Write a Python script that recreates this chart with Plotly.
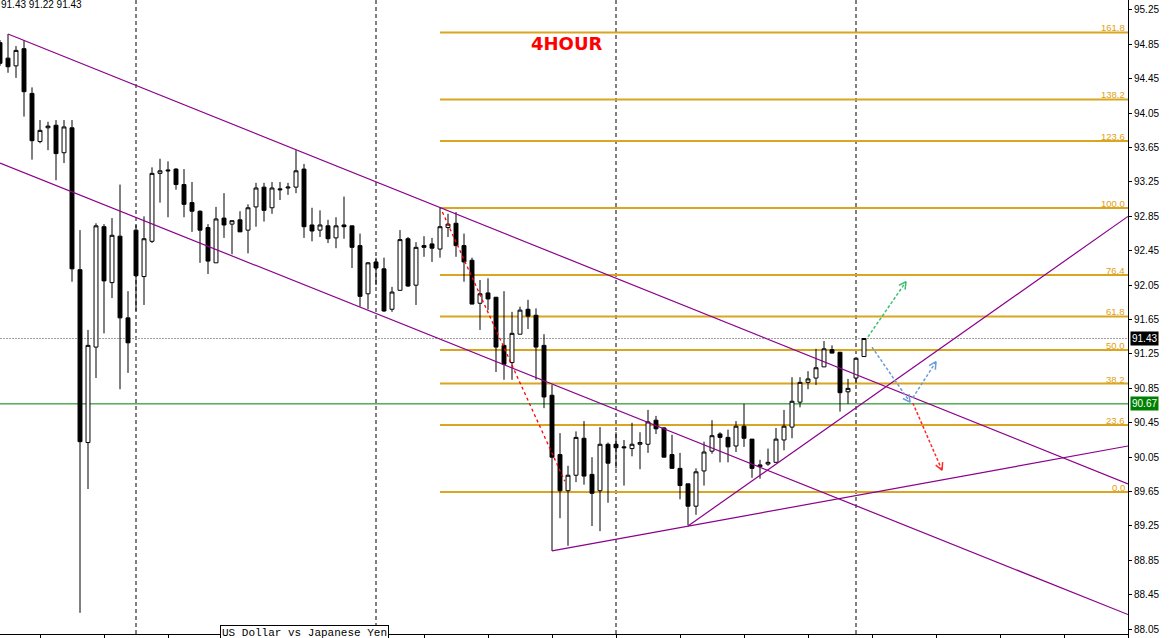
import math
import plotly.graph_objects as go

# ---------------- data (USDJPY, H4) ----------------
bar_index = list(range(109))

open_ = [94.87, 94.69, 94.60, 94.80, 94.28, 93.72, 93.88, 93.91, 93.59, 93.88,
         92.23, 90.22, 91.33, 92.73, 92.08, 92.62, 91.67, 92.69, 92.15, 92.56,
         93.35, 93.39, 93.40, 93.22, 93.01, 92.91, 92.72, 92.31, 92.83, 92.76,
         92.81, 92.69, 92.96, 93.19, 92.95, 93.17, 93.18, 93.19, 93.40, 92.75,
         92.69, 92.74, 92.60, 92.75, 92.74, 92.51, 91.95, 92.32, 92.24, 91.77,
         91.99, 92.59, 92.05, 92.51, 92.53, 92.47, 92.72, 92.77, 92.51, 92.34,
         91.84, 91.96, 91.91, 91.35, 91.15, 91.48, 91.77, 91.70, 91.35, 90.77,
         90.08, 89.66, 89.84, 90.27, 89.85, 89.66, 90.20, 90.20, 90.17, 90.15,
         90.20, 90.20, 90.48, 90.39, 90.08, 89.92, 89.74, 89.48, 89.89, 90.12,
         90.32, 90.28, 90.18, 90.41, 90.26, 89.94, 89.97, 89.99, 90.25, 90.40,
         90.69, 90.92, 90.97, 91.10, 91.30, 91.27, 90.81, 90.97, 91.22]

high = [94.90, 94.97, 94.83, 94.90, 94.35, 93.97, 93.95, 93.97, 93.97, 93.97,
        92.69, 91.53, 92.77, 92.76, 92.83, 93.22, 91.98, 92.75, 92.85, 93.42,
        93.52, 93.49, 93.41, 93.40, 93.25, 92.92, 92.76, 92.96, 93.12, 92.80,
        92.91, 92.99, 93.24, 93.24, 93.25, 93.25, 93.24, 93.62, 93.46, 92.95,
        92.92, 92.81, 92.84, 93.08, 92.74, 92.65, 92.32, 92.37, 92.37, 92.03,
        92.69, 92.61, 92.55, 92.62, 92.60, 92.95, 92.88, 92.90, 92.65, 92.37,
        92.11, 92.13, 91.91, 91.98, 91.74, 91.80, 91.88, 91.78, 91.48, 90.89,
        90.33, 89.95, 90.35, 90.47, 90.05, 90.40, 90.22, 90.34, 90.25, 90.45,
        90.34, 90.60, 90.53, 90.40, 90.31, 90.10, 89.74, 89.92, 90.23, 90.48,
        90.34, 90.37, 90.47, 90.67, 90.26, 90.02, 90.15, 90.39, 90.60, 90.98,
        90.98, 91.05, 91.31, 91.40, 91.35, 91.27, 90.96, 91.20, 91.43]

low = [94.60, 94.52, 94.46, 94.01, 93.51, 93.70, 93.62, 93.27, 93.47, 92.09,
       88.24, 89.68, 90.97, 91.49, 91.90, 90.84, 91.03, 91.75, 91.82, 92.54,
       93.01, 92.84, 93.16, 92.84, 92.67, 92.31, 92.18, 92.31, 92.60, 92.41,
       92.67, 92.42, 92.73, 92.79, 92.88, 93.04, 93.10, 93.12, 92.60, 92.56,
       92.61, 92.54, 92.48, 92.59, 92.25, 91.80, 91.77, 92.05, 91.74, 91.74,
       91.99, 92.03, 91.82, 92.38, 92.32, 92.37, 92.61, 92.38, 92.09, 91.83,
       91.53, 91.76, 91.04, 90.95, 90.95, 91.48, 91.54, 90.95, 90.62, 88.96,
       89.34, 89.02, 89.76, 89.73, 89.25, 89.19, 89.52, 89.92, 89.72, 90.06,
       89.91, 90.10, 90.32, 90.05, 89.92, 89.56, 89.26, 89.38, 89.72, 90.09,
       89.99, 89.99, 90.11, 90.17, 89.81, 89.80, 89.95, 89.99, 90.13, 90.27,
       90.63, 90.84, 90.89, 91.10, 91.26, 90.58, 90.67, 90.91, 91.22]

close = [94.63, 94.59, 94.78, 94.30, 93.73, 93.85, 93.90, 93.58, 93.89, 92.24,
         90.23, 91.35, 92.74, 92.10, 92.63, 91.67, 91.38, 92.16, 92.59, 93.35,
         93.38, 93.38, 93.22, 92.99, 92.91, 92.69, 92.33, 92.82, 92.75, 92.80,
         92.67, 92.95, 93.18, 92.92, 93.18, 93.16, 93.19, 93.38, 92.73, 92.68,
         92.75, 92.59, 92.74, 92.73, 92.49, 91.92, 92.31, 92.25, 91.75, 91.97,
         92.58, 92.04, 92.49, 92.49, 92.48, 92.73, 92.76, 92.51, 92.32, 91.83,
         91.95, 91.89, 91.33, 91.13, 91.49, 91.76, 91.69, 91.33, 90.75, 90.05,
         89.66, 89.84, 90.28, 89.83, 89.63, 90.20, 89.98, 90.16, 90.16, 90.20,
         90.22, 90.46, 90.38, 90.05, 89.92, 89.72, 89.48, 89.88, 90.11, 90.30,
         90.28, 90.17, 90.41, 90.27, 89.92, 89.96, 89.99, 90.26, 90.41, 90.70,
         90.92, 90.96, 91.09, 91.31, 91.26, 90.80, 90.85, 91.20, 91.43]

# price axis ticks
price_ticks = [88.05, 88.45, 88.85, 89.25, 89.65, 90.05, 90.45, 90.85, 91.25,
               91.65, 92.05, 92.45, 92.85, 93.25, 93.65, 94.05, 94.45, 94.85, 95.25]

# period separators (bar index)
separators = [17, 47, 77, 107]

# Fibonacci retracement
fib_start = 55
fib_low = 89.645
fib_high = 92.948
fib_levels = [0.0, 23.6, 38.2, 50.0, 61.8, 76.4, 100.0, 123.6, 138.2, 161.8]

# trend lines (bar index, price)
channel_upper_k = [1, 141]
channel_upper_p = [94.97, 89.74]
channel_lower_k = [0, 141]
channel_lower_p = [93.47, 88.22]
triangle_base_k = [69, 141]
triangle_base_p = [88.96, 90.18]
rising_line_k = [86, 141]
rising_line_p = [89.25, 92.85]

# dashed projection
red_path_k = [55.3, 70.6]
red_path_p = [92.90, 89.77]

# projection arrows: (k0, p0, k1, p1, colour)
arrows = [
    (108.5, 91.45, 113.25, 92.09, "#3CC070"),
    (109.0, 91.33, 113.75, 90.69, "#6C9BD8"),
    (114.1, 90.74, 117.0, 91.16, "#6C9BD8"),
    (114.1, 90.68, 117.75, 89.90, "#FF2A2A"),
]

last_price = 91.43
green_level = 90.67

# ---------------- layout geometry ----------------
W, H = 1169, 638
ML, MR, MT, MB = 0, 41, 0, 4
X_MIN, X_MAX = 0, 141
Y_MIN, Y_MAX = 87.994, 95.366
PX_X = (W - ML - MR) / (X_MAX - X_MIN)
PX_Y = (H - MT - MB) / (Y_MAX - Y_MIN)

fig = go.Figure()

# separators
for s in separators:
    fig.add_shape(type="line", xref="x", yref="paper", x0=s, x1=s, y0=0, y1=1,
                  line=dict(color="black", width=1, dash="4px,3px"), layer="below")

# horizontal lines
fig.add_shape(type="line", xref="paper", yref="y", x0=0, x1=1, y0=last_price, y1=last_price,
              line=dict(color="#A0A0A0", width=1, dash="2px,1px"), layer="below")
fig.add_shape(type="line", xref="paper", yref="y", x0=0, x1=1, y0=green_level, y1=green_level,
              line=dict(color="#008000", width=1), layer="below")

# fibo levels
fib_range = fib_high - fib_low
for lv in fib_levels:
    price = fib_low + lv / 100.0 * fib_range
    fig.add_shape(type="line", xref="x", yref="y", x0=fib_start, x1=X_MAX, y0=price, y1=price,
                  line=dict(color="#DAA520", width=2), layer="below")
    fig.add_annotation(x=1, xref="paper", y=price, yref="y", text=f"{lv:.1f}",
                       showarrow=False, xanchor="right", yanchor="bottom", yshift=-3, xshift=-1,
                       font=dict(family="Liberation Sans", size=9.5, color="#E0A010"))

# trend lines
for kk, pp in [(channel_upper_k, channel_upper_p), (channel_lower_k, channel_lower_p),
               (triangle_base_k, triangle_base_p), (rising_line_k, rising_line_p)]:
    fig.add_trace(go.Scatter(x=kk, y=pp, mode="lines", line=dict(color="#8B008B", width=1.2),
                             hoverinfo="skip", showlegend=False))

fig.add_trace(go.Scatter(x=red_path_k, y=red_path_p, mode="lines",
                         line=dict(color="#FF0000", width=1.3, dash="3px,3px"),
                         hoverinfo="skip", showlegend=False))

# candles
fig.add_trace(go.Candlestick(
    x=bar_index, open=open_, high=high, low=low, close=close,
    increasing=dict(line=dict(color="black", width=1), fillcolor="white"),
    decreasing=dict(line=dict(color="black", width=1), fillcolor="black"),
    whiskerwidth=0, hoverinfo="skip", showlegend=False))

# arrows
def head_points(k0, p0, k1, p1, length=8, ang=math.radians(28)):
    dx = (k1 - k0) * PX_X
    dy = (p1 - p0) * PX_Y
    d = math.hypot(dx, dy)
    ux, uy = -dx / d, -dy / d
    pts = []
    for s in (1, -1):
        c, si = math.cos(s * ang), math.sin(s * ang)
        rx, ry = ux * c - uy * si, ux * si + uy * c
        pts.append((k1 + rx * length / PX_X, p1 + ry * length / PX_Y))
    return pts

for k0, p0, k1, p1, col in arrows:
    fig.add_trace(go.Scatter(x=[k0, k1], y=[p0, p1], mode="lines",
                             line=dict(color=col, width=1.5, dash="3px,2px"),
                             hoverinfo="skip", showlegend=False))
    (ha, hb) = head_points(k0, p0, k1, p1)
    fig.add_trace(go.Scatter(x=[ha[0], k1, hb[0]], y=[ha[1], p1, hb[1]], mode="lines",
                             line=dict(color=col, width=1.5),
                             hoverinfo="skip", showlegend=False))

# texts
fig.add_annotation(x=70.9, y=94.855, xref="x", yref="y", text="<b>4HOUR</b>", showarrow=False,
                   font=dict(family="DejaVu Sans", size=18, color="#FF0000"))
fig.add_annotation(x=0, y=1, xref="paper", yref="paper", text="91.43 91.22 91.43", showarrow=False,
                   xanchor="left", yanchor="top", xshift=-1, yshift=3,
                   font=dict(family="Liberation Sans", size=10, color="black"))
fig.add_annotation(x=1, y=last_price, xref="paper", yref="y", text="91.43", showarrow=False,
                   xanchor="left", xshift=2, bgcolor="black", borderpad=1,
                   font=dict(family="Liberation Sans", size=10, color="white"))
fig.add_annotation(x=1, y=green_level, xref="paper", yref="y", text="90.67", showarrow=False,
                   xanchor="left", xshift=2, bgcolor="#008000", borderpad=1,
                   font=dict(family="Liberation Sans", size=10, color="white"))
fig.add_annotation(x=27.5, y=0, xref="x", yref="paper",
                   text="US Dollar vs Japanese Yen",
                   showarrow=False, xanchor="left", yanchor="top", yshift=9,
                   bgcolor="white", bordercolor="black", borderwidth=1, borderpad=1,
                   font=dict(family="Liberation Mono", size=11, color="black"))

fig.update_layout(
    width=W, height=H, autosize=False,
    margin=dict(l=ML, r=MR, t=MT, b=MB),
    paper_bgcolor="white", plot_bgcolor="white",
    font=dict(family="Liberation Sans", size=10, color="black"),
    showlegend=False,
    xaxis=dict(range=[X_MIN, X_MAX], showgrid=False, zeroline=False, showline=True,
               linecolor="black", linewidth=1, ticks="outside", ticklen=4, tickcolor="black",
               tick0=5, dtick=8, showticklabels=False, rangeslider=dict(visible=False),
               fixedrange=True),
    yaxis=dict(range=[Y_MIN, Y_MAX], side="right", showgrid=False, zeroline=False,
               showline=True, linecolor="black", linewidth=1, ticks="outside", ticklen=3,
               tickcolor="black", tickvals=price_ticks,
               ticktext=[f"{v:.2f}" for v in price_ticks],
               tickfont=dict(family="Liberation Sans", size=10, color="black"),
               fixedrange=True),
)

fig.write_html("out.html", config={"displayModeBar": False},
               post_script="document.body.style.margin='0';document.body.style.overflow='hidden';")
